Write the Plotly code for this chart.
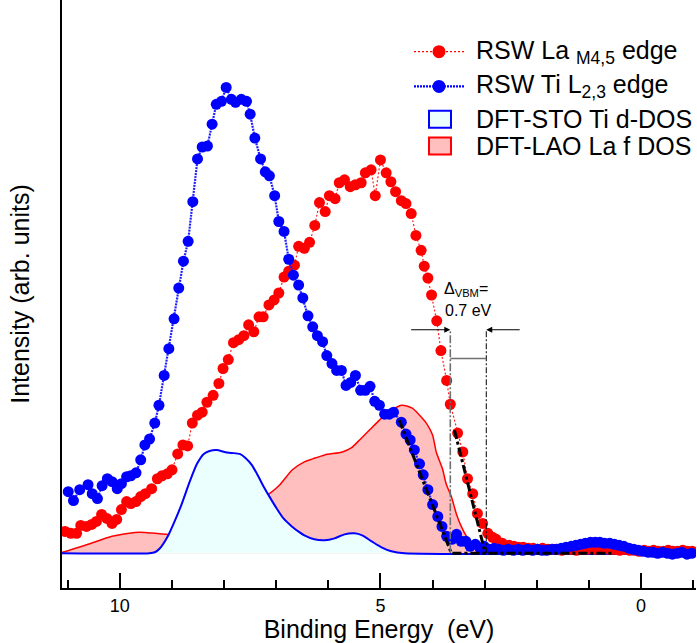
import plotly.graph_objects as go

# ---------------- data (binding energy in eV, intensity in arb. units) ----------------
la_E = [11.05, 10.94, 10.83, 10.75, 10.64, 10.54, 10.45, 10.35, 10.25, 10.15, 10.06, 9.97,
        9.87, 9.79, 9.69, 9.60, 9.51, 9.39, 9.28, 9.19, 9.09, 9.00, 8.89, 8.79, 8.70, 8.61,
        8.51, 8.42, 8.33, 8.21, 8.10, 8.02, 7.92, 7.82, 7.72, 7.62, 7.53, 7.43, 7.33, 7.25,
        7.14, 7.04, 6.95, 6.85, 6.76, 6.65, 6.57, 6.46, 6.36, 6.26, 6.17, 6.06, 5.98, 5.87,
        5.79, 5.69, 5.58, 5.48, 5.37, 5.29, 5.18, 5.10, 5.00, 4.89, 4.80, 4.71, 4.60, 4.51,
        4.41, 4.32, 4.22, 4.16, 4.09, 4.02, 3.92, 3.84, 3.73, 3.66, 3.52, 3.42, 3.33, 3.23,
        3.14, 3.04, 2.94, 2.85, 2.78, 2.66, 2.53,
        2.44, 2.35, 2.26, 2.16, 2.07, 1.98, 1.89, 1.79, 1.70, 1.61, 1.52, 1.42, 1.33, 1.24,
        1.15, 1.05, 0.96, 0.87, 0.78, 0.68, 0.59, 0.50, 0.41, 0.31, 0.22, 0.13, 0.04, -0.06,
        -0.15, -0.24, -0.33, -0.43, -0.52, -0.61, -0.70, -0.80, -0.89, -0.98]
la_I = [0.22, 0.20, 0.20, 0.28, 0.27, 0.29, 0.32, 0.39, 0.35, 0.30, 0.34, 0.44,
        0.52, 0.50, 0.52, 0.57, 0.60, 0.65, 0.75, 0.78, 0.80, 0.84, 1.00, 1.09, 1.08, 1.31,
        1.39, 1.42, 1.52, 1.59, 1.71, 1.86, 1.95, 2.12, 2.15, 2.19, 2.30, 2.23, 2.38, 2.38,
        2.50, 2.55, 2.62, 2.78, 2.84, 2.90, 3.09, 3.07, 3.13, 3.30, 3.53, 3.44, 3.60, 3.57,
        3.73, 3.76, 3.69, 3.71, 3.73, 3.83, 3.86, 3.60, 3.96, 3.83, 3.74, 3.64, 3.55, 3.52,
        3.42, 3.20, 3.05, 2.89, 2.77, 2.60, 2.34, 2.04, 1.74, 1.50, 1.21, 1.02, 0.75, 0.60,
        0.40, 0.30, 0.20, 0.16, 0.14, 0.10, 0.08,
        0.07, 0.06, 0.06, 0.05, 0.05, 0.04, 0.05, 0.04, 0.04, 0.04, 0.03, 0.04, 0.04, 0.03,
        0.04, 0.04, 0.05, 0.04, 0.05, 0.05, 0.04, 0.04, 0.03, 0.04, 0.03, 0.03, 0.02, 0.03,
        0.02, 0.03, 0.02, 0.02, 0.03, 0.02, 0.02, 0.03, 0.02, 0.02]

ti_E = [10.99, 10.89, 10.77, 10.61, 10.53, 10.43, 10.34, 10.24, 10.15, 10.05, 9.97, 9.87,
        9.79, 9.69, 9.60, 9.52, 9.43, 9.33, 9.25, 9.15, 9.06, 8.96, 8.87, 8.78, 8.69, 8.60,
        8.51, 8.42, 8.32, 8.23, 8.15, 8.05, 7.96, 7.86, 7.78, 7.67, 7.57, 7.50, 7.41, 7.30,
        7.21, 7.13, 7.03, 6.95, 6.85, 6.76, 6.67, 6.57, 6.49, 6.39, 6.30, 6.21, 6.11, 6.03,
        5.93, 5.84, 5.75, 5.66, 5.57, 5.48, 5.38, 5.29, 5.20, 5.11, 5.02, 4.92, 4.83, 4.75,
        4.60, 4.51, 4.43, 4.35, 4.25, 4.18, 4.09, 4.00, 3.90, 3.82, 3.73, 3.63, 3.54, 3.45,
        3.36, 3.28, 3.18, 3.09, 3.01, 2.91, 2.82,
        2.73, 2.64, 2.55, 2.45, 2.36, 2.27, 2.18, 2.08, 1.99, 1.90, 1.81, 1.71, 1.62, 1.53,
        1.44, 1.34, 1.25, 1.16, 1.07, 0.97, 0.88, 0.79, 0.70, 0.60, 0.51, 0.42, 0.33, 0.23,
        0.14, 0.05, -0.04, -0.14, -0.23, -0.32, -0.41, -0.51, -0.60, -0.69, -0.78, -0.88, -0.97]
ti_I = [0.62, 0.53, 0.64, 0.69, 0.60, 0.55, 0.68, 0.75, 0.72, 0.65, 0.70, 0.77,
        0.78, 0.81, 0.94, 1.09, 1.15, 1.31, 1.49, 1.79, 2.06, 2.36, 2.67, 2.94, 3.14, 3.54,
        3.97, 4.09, 4.10, 4.32, 4.52, 4.55, 4.69, 4.57, 4.54, 4.57, 4.55, 4.42, 4.18, 3.97,
        3.84, 3.80, 3.60, 3.34, 3.24, 2.96, 2.80, 2.70, 2.57, 2.39, 2.28, 2.19, 2.13, 1.99,
        1.91, 1.84, 1.84, 1.69, 1.72, 1.79, 1.64, 1.64, 1.68, 1.53, 1.49, 1.40, 1.40, 1.42,
        1.32, 1.20, 1.14, 1.04, 0.90, 0.79, 0.64, 0.49, 0.37, 0.27, 0.17, 0.14, 0.19, 0.12,
        0.12, 0.07, 0.09, 0.05, 0.07, 0.04, 0.05,
        0.04, 0.03, 0.04, 0.03, 0.04, 0.03, 0.04, 0.03, 0.04, 0.03, 0.03, 0.04, 0.04, 0.05,
        0.06, 0.07, 0.08, 0.09, 0.10, 0.11, 0.11, 0.11, 0.10, 0.10, 0.09, 0.08, 0.07, 0.05,
        0.04, 0.03, 0.02, 0.01, 0.01, 0.00, 0.01, 0.00, -0.01, 0.00, 0.01, -0.01, 0.00]

sto_dos_E = [11.11, 9.43, 9.33, 9.23, 9.08, 8.95, 8.81, 8.66, 8.52, 8.39, 8.28, 8.14, 7.99,
             7.86, 7.70, 7.59, 7.47, 7.36, 7.24, 7.13, 6.99, 6.86, 6.70, 6.55, 6.46, 6.27,
             6.07, 5.88, 5.69, 5.50, 5.35, 5.17, 4.98, 4.79, 4.54, -1.06]
sto_dos_I = [0.0, 0.0, 0.01, 0.05, 0.17, 0.32, 0.50, 0.72, 0.90, 1.00, 1.03, 1.04, 1.02,
             1.01, 1.00, 0.96, 0.89, 0.79, 0.67, 0.57, 0.45, 0.35, 0.27, 0.21, 0.18, 0.14,
             0.13, 0.15, 0.19, 0.20, 0.18, 0.12, 0.06, 0.02, 0.0, 0.0]

lao_dos_E = [11.11, 11.03, 10.61, 10.15, 9.71, 9.52, 9.04, 8.47, 8.08, 7.70, 7.41, 7.13,
             6.93, 6.69, 6.46, 6.30, 6.07, 5.73, 5.56, 5.40, 5.21, 5.02, 4.83, 4.69, 4.60,
             4.48, 4.39, 4.25, 4.12, 4.00, 3.93, 3.81, 3.74, 3.64, 3.54, 3.45, 3.35, 3.26,
             3.14, 3.01, 2.82, -1.06]
lao_dos_I = [0.01, 0.02, 0.09, 0.17, 0.21, 0.21, 0.19, 0.27, 0.35, 0.43, 0.51, 0.60,
             0.69, 0.84, 0.92, 0.95, 0.99, 1.02, 1.06, 1.14, 1.24, 1.34, 1.43, 1.47, 1.49,
             1.48, 1.46, 1.39, 1.31, 1.19, 1.02, 0.85, 0.70, 0.57, 0.39, 0.27, 0.17, 0.11,
             0.06, 0.02, 0.0, 0.0]

# linear leading-edge fits and baseline
ti_fit_E = [4.64, 3.64, 0.55]
ti_fit_I = [1.34, 0.0, 0.0]
la_fit_E = [3.58, 2.99]
la_fit_I = [1.24, 0.0]
vbm_sto = 3.66
vbm_lao = 2.97
x_ticks = [10, 5, 0]

# ---------------- figure ----------------
W, H = 697, 643
ML, MR, MT, MB = 62, 1, 0, 51
FONT = "Liberation Sans, Arial, sans-serif"

fig = go.Figure()

fig.add_trace(go.Scatter(x=lao_dos_E, y=lao_dos_I, mode="lines", fill="tozeroy",
                         fillcolor="#ffbfbf", line=dict(color="#ff0000", width=1.5,
                                                        shape="spline", smoothing=0.6),
                         showlegend=False, hoverinfo="skip"))
fig.add_trace(go.Scatter(x=sto_dos_E, y=sto_dos_I, mode="lines", fill="tozeroy",
                         fillcolor="#ebffff", line=dict(color="#0000ff", width=2,
                                                        shape="spline", smoothing=0.6),
                         showlegend=False, hoverinfo="skip"))
fig.add_trace(go.Scatter(x=la_E, y=la_I, mode="lines+markers",
                         line=dict(color="#ff2020", width=1.2, dash="2px,2px"),
                         marker=dict(color="#ff0000", size=11, line=dict(width=0)),
                         showlegend=False))
fig.add_trace(go.Scatter(x=ti_E, y=ti_I, mode="lines+markers",
                         line=dict(color="#2020ff", width=2.2, dash="2px,1px"),
                         marker=dict(color="#0000ff", size=11, line=dict(width=0)),
                         showlegend=False))
fig.add_trace(go.Scatter(x=ti_fit_E, y=ti_fit_I, mode="lines",
                         line=dict(color="black", width=3, dash="9px,3px,3px,3px"),
                         showlegend=False, hoverinfo="skip"))
fig.add_trace(go.Scatter(x=la_fit_E, y=la_fit_I, mode="lines",
                         line=dict(color="black", width=3, dash="9px,3px,3px,3px"),
                         showlegend=False, hoverinfo="skip"))

arrow_y = 2.25
bar_y = 1.96
shapes = [
    dict(type="line", xref="x", yref="y", x0=vbm_sto, x1=vbm_sto, y0=0, y1=arrow_y,
         line=dict(color="#707070", width=1.6, dash="8px,2px,2px,2px")),
    dict(type="line", xref="x", yref="y", x0=vbm_lao, x1=vbm_lao, y0=0, y1=arrow_y,
         line=dict(color="black", width=1, dash="6px,2px,2px,2px")),
    dict(type="line", xref="x", yref="y", x0=vbm_sto, x1=vbm_lao, y0=bar_y, y1=bar_y,
         line=dict(color="#707070", width=1.5)),
]

annotations = [
    dict(x=vbm_sto, y=arrow_y, ax=4.44, ay=arrow_y, xref="x", yref="y", axref="x", ayref="y",
         text="", showarrow=True, arrowhead=2, arrowsize=1, arrowwidth=1.2, arrowcolor="black"),
    dict(x=vbm_lao, y=arrow_y, ax=2.30, ay=arrow_y, xref="x", yref="y", axref="x", ayref="y",
         text="", showarrow=True, arrowhead=2, arrowsize=1, arrowwidth=1.2, arrowcolor="black"),
    dict(x=3.81, y=2.66, xref="x", yref="y", xanchor="left", yanchor="middle", showarrow=False,
         text="Δ<sub>VBM</sub>=", font=dict(size=16, color="black", family=FONT)),
    dict(x=3.80, y=2.44, xref="x", yref="y", xanchor="left", yanchor="middle", showarrow=False,
         text="0.7 eV", font=dict(size=16, color="black", family=FONT)),
]

# ---- hand-drawn legend (paper coordinates derived from pixel layout) ----
PW = W - ML - MR
PH = H - MT - MB
def px(x):
    return (x - ML) / PW
def py(y):
    return (H - MB - y) / PH

legend_rows = [
    ("marker", "#ff0000", "2px,2px", 1.2, 52, "RSW La <sub>M4,5</sub> edge"),
    ("marker", "#0000ff", "2px,1px", 2.2, 87, "RSW Ti L<sub>2,3</sub> edge"),
    ("box", ("#0000ff", "#ebffff"), None, None, 120, "DFT-STO Ti d-DOS"),
    ("box", ("#ff0000", "#ffbfbf"), None, None, 147, "DFT-LAO La f DOS"),
]
for kind, col, dash, lw, yy, label in legend_rows:
    if kind == "marker":
        shapes.append(dict(type="line", xref="paper", yref="paper", x0=px(414), x1=px(464),
                           y0=py(yy), y1=py(yy), line=dict(color=col, width=lw, dash=dash)))
        shapes.append(dict(type="circle", xref="paper", yref="paper", xsizemode="pixel",
                           ysizemode="pixel", xanchor=px(439), yanchor=py(yy),
                           x0=-6.5, x1=6.5, y0=-6.5, y1=6.5, fillcolor=col,
                           line=dict(width=0)))
    else:
        shapes.append(dict(type="rect", xref="paper", yref="paper", x0=px(429), x1=px(451),
                           y0=py(yy - 8.5), y1=py(yy + 8.5), fillcolor=col[1],
                           line=dict(color=col[0], width=2)))
    annotations.append(dict(x=px(474), y=py(yy), xref="paper", yref="paper", xanchor="left",
                            yanchor="middle", showarrow=False, text=label,
                            font=dict(size=25, color="black", family=FONT)))

fig.update_layout(
    width=W, height=H,
    margin=dict(l=ML, r=MR, t=MT, b=MB, pad=0),
    paper_bgcolor="white", plot_bgcolor="white",
    font=dict(family=FONT, color="black"),
    showlegend=False,
    shapes=shapes,
    annotations=annotations,
    xaxis=dict(range=[11.11, -1.054], tickmode="array", tickvals=x_ticks,
               ticktext=[str(t) for t in x_ticks],
               ticks="inside", ticklen=15, tickwidth=1.5, tickcolor="black",
               minor=dict(tick0=0, dtick=1, ticks="inside", ticklen=8, tickwidth=1.5,
                          tickcolor="black", showgrid=False),
               showline=True, linecolor="black", linewidth=1.5, mirror=False,
               showgrid=False, zeroline=False,
               tickfont=dict(size=18, color="black", family=FONT),
               ticklabelstandoff=1,
               title=dict(text="Binding Energy\u00a0 (eV)", standoff=9,
                          font=dict(size=25, color="black", family=FONT))),
    yaxis=dict(range=[-0.35, 5.57], showticklabels=False, ticks="",
               showline=True, linecolor="black", linewidth=1.5, mirror=False,
               showgrid=False, zeroline=False,
               title=dict(text="Intensity (arb. units)", standoff=24,
                          font=dict(size=25, color="black", family=FONT))),
)

fig.write_html("out.html")
